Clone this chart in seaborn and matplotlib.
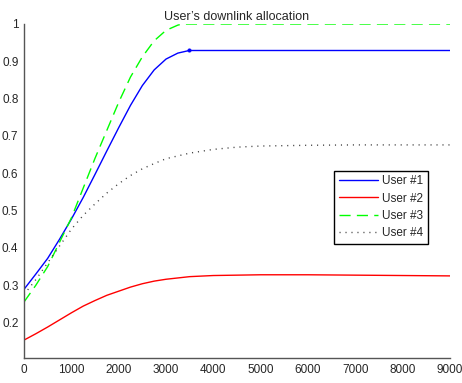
import matplotlib
matplotlib.use("Agg")
import matplotlib.pyplot as plt
import seaborn as sns
import pandas as pd

# ---- data ----
x_u1 = [0, 250, 500, 750, 1000, 1250, 1500, 1750, 2000, 2250, 2500, 2750, 3000, 3250, 3490, 9000]
y_u1 = [0.289, 0.330, 0.372, 0.423, 0.477, 0.535, 0.597, 0.660, 0.722, 0.782, 0.835, 0.877, 0.906, 0.922, 0.929, 0.929]

x_u2 = [0, 250, 500, 750, 1000, 1250, 1500, 1750, 2000, 2250, 2500, 2750, 3000, 3500, 4000, 5000, 6000, 7000, 8000, 9000]
y_u2 = [0.153, 0.170, 0.188, 0.207, 0.226, 0.244, 0.259, 0.273, 0.284, 0.295, 0.304, 0.311, 0.316, 0.323, 0.326, 0.328, 0.328, 0.327, 0.326, 0.325]

x_u3 = [0, 250, 500, 750, 1000, 1250, 1500, 1750, 2000, 2250, 2500, 2750, 3000, 3250, 3350, 9000]
y_u3 = [0.255, 0.300, 0.350, 0.415, 0.480, 0.560, 0.640, 0.715, 0.790, 0.858, 0.912, 0.955, 0.983, 0.997, 1.000, 1.000]

x_u4 = [0, 250, 500, 750, 1000, 1250, 1500, 1750, 2000, 2250, 2500, 2750, 3000, 3500, 4000, 4500, 5000, 6000, 7000, 9000]
y_u4 = [0.275, 0.315, 0.360, 0.405, 0.450, 0.487, 0.518, 0.547, 0.572, 0.594, 0.612, 0.626, 0.639, 0.654, 0.664, 0.670, 0.673, 0.675, 0.676, 0.676]

marker_x = [3490]
marker_y = [0.929]

labels = ["User #1", "User #2", "User #3", "User #4"]
title = "User\u2019s downlink allocation"
xticks = [0, 1000, 2000, 3000, 4000, 5000, 6000, 7000, 8000, 9000]
yticks = [0.2, 0.3, 0.4, 0.5, 0.6, 0.7, 0.8, 0.9, 1.0]
ytick_labels = ["0.2", "0.3", "0.4", "0.5", "0.6", "0.7", "0.8", "0.9", "1"]

sns.set_style("white")
plt.rcParams["font.family"] = ["Liberation Sans", "DejaVu Sans"]

fig = plt.figure(figsize=(4.62, 3.83), dpi=100)
ax = fig.add_axes([24 / 462, (383 - 358) / 383, 426 / 462, 334 / 383])

sns.lineplot(x=x_u1, y=y_u1, ax=ax, color="#0000ff", lw=1.0, label=labels[0])
sns.lineplot(x=x_u2, y=y_u2, ax=ax, color="#ff0000", lw=1.0, label=labels[1])
sns.lineplot(x=x_u3, y=y_u3, ax=ax, color="#00ff00", lw=1.0, label=labels[2])
sns.lineplot(x=x_u4, y=y_u4, ax=ax, color="#444444", lw=1.0, label=labels[3])
lines = ax.get_lines()
lines[2].set_dashes([8, 4.5])
lines[3].set_dashes([0.8, 3.5])
sns.scatterplot(x=marker_x, y=marker_y, ax=ax, color="#0000ff", s=7, edgecolor="#0000ff", zorder=5, legend=False)

ax.set_xlim(0, 9000)
ax.set_ylim(0.105, 1.0)
ax.set_xticks(xticks)
ax.set_xticklabels([str(v) for v in xticks])
ax.set_yticks(yticks)
ax.set_yticklabels(ytick_labels)
ax.tick_params(direction="in", length=4, width=0.8, color="#222222", labelsize=8.5, pad=4)
for s in ["top", "right"]:
    ax.spines[s].set_visible(False)
for s in ["left", "bottom"]:
    ax.spines[s].set_color("#555555")
    ax.spines[s].set_linewidth(1.0)

ax.set_title(title, fontsize=9, pad=3)

leg = ax.legend(loc="upper left", bbox_to_anchor=(0.714, 0.579), fontsize=8.5,
                handlelength=3.3, handletextpad=0.4, labelspacing=0.45,
                borderpad=0.4, frameon=True, fancybox=False, shadow=False)
leg.get_frame().set_edgecolor("black")
leg.get_frame().set_linewidth(1.0)
leg.get_frame().set_facecolor("white")
leg.get_frame().set_alpha(1)

fig.savefig("out.png", dpi=100)
